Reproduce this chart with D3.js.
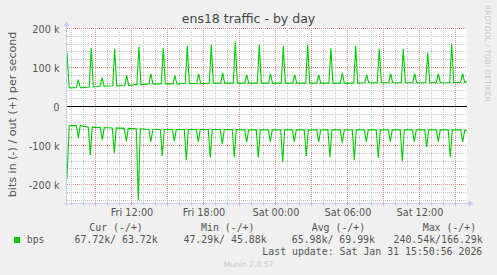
<!DOCTYPE html>
<html><head><meta charset="utf-8">
<script src="https://cdn.jsdelivr.net/npm/d3@7"></script>
<style>html,body{margin:0;padding:0;background:#f0f0f0;} svg{display:block;} text{white-space:pre;}</style>
</head><body><div id="chart"></div>
<script>
// ---- data (values in k bits/s) ----
// out (+) series: event times, peak values, baseline level around each event
const outTimes = ["Fri 07:34","Fri 08:39","Fri 09:33","Fri 10:36","Fri 11:36","Fri 12:37","Fri 13:37","Fri 14:39","Fri 15:37","Fri 16:39","Fri 17:36","Fri 18:39","Fri 19:36","Fri 20:39","Fri 21:36","Fri 22:39","Fri 23:35","Sat 00:39","Sat 01:36","Sat 02:41","Sat 03:36","Sat 04:37","Sat 05:34","Sat 06:41","Sat 07:36","Sat 08:39","Sat 09:36","Sat 10:39","Sat 11:36","Sat 12:41","Sat 13:34","Sat 14:41","Sat 15:36"];
const outPeaks = [69,150,74,148,79,154,84,150,79,156,84,158,86,166.29,81,158,84,155,81,158,81,149,86,156,81,148,84,148,84,138,84,161,84];
const outBase  = [48,50,52,53,54,56,58,58,58,59,59,60,60,60,60,60,60,60,60,60,60,60,60,60,61,61,61,61,61,61,61,61,62];
const outStart = 138, outEnd = 63.72;
// in (-) series
const inTimes = ["Fri 07:34","Fri 08:34","Fri 09:34","Fri 10:34","Fri 11:34","Fri 12:34","Fri 13:37","Fri 14:34","Fri 15:34","Fri 16:34","Fri 17:34","Fri 18:34","Fri 19:34","Fri 20:34","Fri 21:36","Fri 22:34","Fri 23:34","Sat 00:36","Sat 01:34","Sat 02:34","Sat 03:36","Sat 04:32","Sat 05:34","Sat 06:34","Sat 07:34","Sat 08:34","Sat 09:34","Sat 10:34","Sat 11:34","Sat 12:36","Sat 13:34","Sat 14:34","Sat 15:36"];
const inPeaks = [80,124,85,119,89,240.54,90,126,89,138,91,131,96,130,91,131,91,143,90,127,91,130,93,137,91,131,91,140,90,104,91,130,91];
const inBase  = [49,53,54,55,56,57,59,59,59,59,59,59,59,59,60,60,60,60,60,60,60,60,60,60,60,60,60,60,60,60,60,60,60];
const inStart = 185, inEnd = 62;

const yTickValues = [200,100,0,-100,-200];
const yTickLabels = ["200 k","100 k","0","-100 k","-200 k"];
const xTickTimes  = ["Fri 12:00","Fri 18:00","Sat 00:00","Sat 06:00","Sat 12:00"];
const xTickLabels = ["Fri 12:00","Fri 18:00","Sat 00:00","Sat 06:00","Sat 12:00"];

const legendHeaders = ["Cur (-/+)","Min (-/+)","Avg (-/+)","Max (-/+)"];
const inStats  = [67.72,47.29,65.98,240.54];
const outStats = [63.72,45.88,69.99,166.29];
const seriesName = "bps";
const lastUpdate = "Last update: Sat Jan 31 15:50:56 2026";
const title = "ens18 traffic - by day";
const yLabel = "bits in (-) / out (+) per second";

// ---- chart ----
const W=497,H=275;
const parseT = s => { const [d,hm]=s.split(' '); const [h,m]=hm.split(':').map(Number); return new Date(2026,0,d==='Fri'?30:31,h,m); };
const t0 = new Date(2026,0,30,6,37,30), t1 = new Date(2026,0,31,15,57,30);
const x = d3.scaleTime().domain([t0,t1]).range([67,467]);
const y = d3.scaleLinear().domain([-248.72,200]).range([203.5,28.5]);
const svg=d3.select('#chart').append('svg').attr('width',W).attr('height',H);
svg.append('rect').attr('width',W).attr('height',H).attr('fill','#f0f0f0');
svg.append('rect').attr('x',67).attr('y',28).attr('width',400).attr('height',175.5).attr('fill','#ffffff');

const crisp = v => Math.round(v-0.5)+0.5;
const grid = svg.append('g');
// horizontal minor / major
d3.range(-240,201,20).forEach(v=>{
  const major = v%100===0;
  grid.append('line').attr('x1',67).attr('x2',467).attr('y1',crisp(y(v))).attr('y2',crisp(y(v)))
    .attr('stroke', major?'#e88a8a':'#c4c4c4').attr('stroke-dasharray','1,1');
});
// vertical
const hours = d3.timeHour.every(1).range(t0,t1);
hours.forEach(h=>{
  const major = h.getHours()%3===0;
  grid.append('line').attr('x1',crisp(x(h))).attr('x2',crisp(x(h))).attr('y1',28).attr('y2',205.5)
    .attr('stroke', major?'#e88a8a':'#c4c4c4').attr('stroke-dasharray','1,1');
});

// zero line
svg.append('line').attr('x1',67).attr('x2',467).attr('y1',y(0)).attr('y2',y(0)).attr('stroke','#000').attr('stroke-width',1);

// series
const minute = 60000;
function buildSeries(times, peaks, base, start, end, sign){
  const pts=[{t:t0,v:sign*start},{t:new Date(t0.getTime()+11*minute),v:sign*base[0]}];
  times.forEach((s,i)=>{
    const t=parseT(s);
    pts.push({t:new Date(t.getTime()-10*minute),v:sign*base[i]});
    pts.push({t:t,v:sign*peaks[i]});
    pts.push({t:new Date(t.getTime()+10*minute),v:sign*base[i]});
  });
  pts.push({t:t1,v:sign*end});
  return pts;
}
const line = d3.line().x(d=>x(d.t)).y(d=>y(d.v));
[buildSeries(outTimes,outPeaks,outBase,outStart,outEnd,1), buildSeries(inTimes,inPeaks,inBase,inStart,inEnd,-1)].forEach(p=>{
  svg.append('path').attr('d',line(p)).attr('fill','none').attr('stroke','#00cc00').attr('stroke-width',1.1);
});

// axes lines + arrows
const axisCol='#c6cef6';
svg.append('line').attr('x1',66.5).attr('x2',66.5).attr('y1',206.5).attr('y2',25).attr('stroke',axisCol);
svg.append('path').attr('d','M66.5,21 L69.5,26.5 L63.5,26.5 Z').attr('fill',axisCol);
svg.append('line').attr('x1',63.5).attr('x2',470).attr('y1',203.5).attr('y2',203.5).attr('stroke',axisCol);
svg.append('path').attr('d','M474,203.5 L468.5,200.5 L468.5,206.5 Z').attr('fill',axisCol);

// y axis labels
const yAx = svg.append('g').attr('transform','translate(66.5,0)')
  .call(d3.axisLeft(y).tickValues(yTickValues).tickFormat((d,i)=>yTickLabels[i]).tickSize(0).tickPadding(7));
yAx.select('.domain').remove();
yAx.selectAll('text').attr('font-family','DejaVu Sans').attr('font-size','9.7px').attr('fill','#555').attr('dy','0.38em');

// x axis labels
const xAx = svg.append('g').attr('transform','translate(0,203.5)')
  .call(d3.axisBottom(x).tickValues(xTickTimes.map(parseT)).tickFormat((d,i)=>xTickLabels[i]).tickSize(0).tickPadding(5.5));
xAx.select('.domain').remove();
xAx.selectAll('text').attr('font-family','DejaVu Sans').attr('font-size','9.7px').attr('fill','#555');

// title
svg.append('text').attr('x',248.5).attr('y',23).attr('text-anchor','middle')
  .attr('font-family','DejaVu Sans').attr('font-size','12.5px').attr('fill','#444').text(title);
// y label
svg.append('text').attr('transform','translate(15.5,114.4) rotate(-90)').attr('text-anchor','middle')
  .attr('font-family','DejaVu Sans').attr('font-size','11.1px').attr('fill','#555').text(yLabel);
// rrdtool watermark
svg.append('text').attr('transform','translate(484.5,5) rotate(90)')
  .attr('font-family','DejaVu Sans').attr('font-size','7.5px').attr('fill','#c8c8c8').text('RRDTOOL / TOBI OETIKER');

// legend
const mono = 'DejaVu Sans Mono';
const headerX = [89.3,201,311.7,422.7];
const valEndX = [157.7,266.7,375,482.7];
legendHeaders.forEach((h,i)=>{
  svg.append('text').attr('x',headerX[i]).attr('y',231).attr('font-family',mono).attr('font-size','9.9px').attr('fill','#555').text(h);
  const s = (inStats[i].toFixed(2)+'k/') + (outStats[i].toFixed(2)+'k').padStart(7,' ');
  svg.append('text').attr('x',valEndX[i]).attr('y',242.5).attr('text-anchor','end').attr('font-family',mono).attr('font-size','9.9px').attr('fill','#555').text(s);
});
svg.append('rect').attr('x',14).attr('y',237).attr('width',6).attr('height',6).attr('fill','#00cc00');
svg.append('text').attr('x',26.7).attr('y',242.5).attr('font-family',mono).attr('font-size','9.9px').attr('fill','#555').text(seriesName);
svg.append('text').attr('x',482.3).attr('y',254.5).attr('text-anchor','end').attr('font-family',mono).attr('font-size','9.9px').attr('fill','#555').text(lastUpdate);
svg.append('text').attr('x',248.5).attr('y',266.5).attr('text-anchor','middle').attr('font-family','DejaVu Sans').attr('font-size','7.6px').attr('fill','#c8c8c8').text('Munin 2.0.57');
</script>
</body></html>
